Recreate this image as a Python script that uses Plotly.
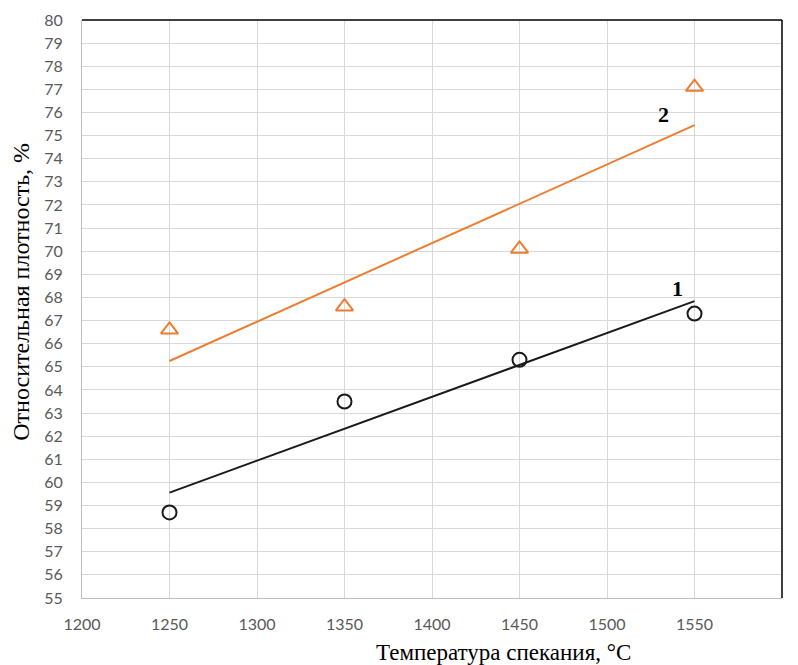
import numpy as np
import plotly.graph_objects as go

temps = [1250, 1350, 1450, 1550]
density_1 = [58.7, 63.5, 65.3, 67.3]
density_2 = [66.6, 67.6, 70.1, 77.1]
x_ticks = [1200, 1250, 1300, 1350, 1400, 1450, 1500, 1550, 1600]
y_ticks = list(range(55, 81))

def trend(x, y):
    k, b = np.polyfit(x, y, 1)
    xs = [min(x), max(x)]
    return xs, [k * v + b for v in xs]

fig = go.Figure()
tx1, ty1 = trend(temps, density_1)
tx2, ty2 = trend(temps, density_2)
fig.add_trace(go.Scatter(x=tx2, y=ty2, mode="lines", line=dict(color="#ED7D31", width=2), showlegend=False))
fig.add_trace(go.Scatter(x=tx1, y=ty1, mode="lines", line=dict(color="#1a1a1a", width=2), showlegend=False))
fig.add_trace(go.Scatter(x=temps, y=density_2, mode="markers",
                         marker=dict(symbol="triangle-up-open", size=15, color="#ED7D31", line=dict(width=2, color="#ED7D31")),
                         showlegend=False))
fig.add_trace(go.Scatter(x=temps, y=density_1, mode="markers",
                         marker=dict(symbol="circle-open", size=14, color="#1a1a1a", line=dict(width=2, color="#1a1a1a")),
                         showlegend=False))

tickfont = dict(family="Lato, Open Sans, sans-serif", size=16, color="#595959")
fig.update_xaxes(range=[1200, 1600], tickvals=x_ticks, showgrid=True, gridcolor="#d9d9d9", gridwidth=1,
                 showline=True, linecolor="#bfbfbf", linewidth=1, zeroline=False, ticks="", tickfont=tickfont,
                 automargin=False, ticklabelstandoff=12)
fig.update_yaxes(range=[55, 80], tickvals=y_ticks, showgrid=True, gridcolor="#d9d9d9", gridwidth=1,
                 showline=True, linecolor="#bfbfbf", linewidth=1, zeroline=False, ticks="", tickfont=tickfont,
                 automargin=False, ticklabelstandoff=15)

serif = "Liberation Serif, Times New Roman, serif"
fig.update_layout(
    width=790, height=657,
    margin=dict(l=74, r=16, t=12, b=67, autoexpand=False),
    plot_bgcolor="white", paper_bgcolor="white",
    shapes=[
        dict(type="line", xref="paper", yref="paper", x0=0, x1=1, y0=1, y1=1, line=dict(color="black", width=1.5)),
        dict(type="line", xref="paper", yref="paper", x0=1, x1=1, y0=0, y1=1, line=dict(color="black", width=1.5)),
    ],
    annotations=[
        dict(text="Температура спекания, °С", x=0.602, y=-0.094, xref="paper", yref="paper",
             xanchor="center", yanchor="middle", showarrow=False, font=dict(family=serif, size=23, color="black")),
        dict(text="Относительная плотность, %", x=-0.087, y=0.53, xref="paper", yref="paper", textangle=-90,
             xanchor="center", yanchor="middle", showarrow=False, font=dict(family=serif, size=24, color="black")),
        dict(text="<b>1</b>", x=1540, y=68.4, xref="x", yref="y", showarrow=False,
             font=dict(family=serif, size=22, color="black")),
        dict(text="<b>2</b>", x=1532, y=75.9, xref="x", yref="y", showarrow=False,
             font=dict(family=serif, size=22, color="black")),
    ],
)
fig.write_html("out.html")
